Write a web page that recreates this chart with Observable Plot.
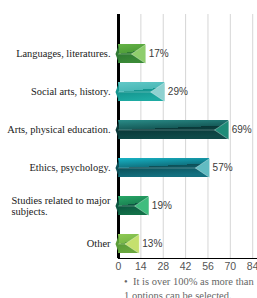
<!DOCTYPE html>
<html><head><meta charset="utf-8">
<script src="https://cdn.jsdelivr.net/npm/d3@7"></script>
<script src="https://cdn.jsdelivr.net/npm/@observablehq/plot@0.6"></script>
<style>
html,body{margin:0;padding:0;background:#fff;}
body{width:257px;height:298px;overflow:hidden;position:relative;}
#note{font-family:"Liberation Serif",serif;font-size:10.5px;color:#666;margin-left:124px;line-height:14px;white-space:nowrap;margin-top:-1px;}
#note .b{display:inline-block;width:9px;}
</style></head>
<body>
<div id="chart"></div>
<div id="note"><span class="b">•</span>It is over 100% as more than<br>1 options can be selected.</div>
<script>
const categories = ["Languages, literatures.", "Social arts, history.", "Arts, physical education.", "Ethics, psychology.", "Studies related to major subjects.", "Other"];
const values = [17, 29, 69, 57, 19, 13];
const xTicks = [0, 14, 28, 42, 56, 70, 84];

// styling (colours for each bar: top-left, top-right, bottom-left, bottom-right, end triangle)
const barColors = [
  ["#66b447", "#4f9e39", "#2f7a33", "#3a8a36", "#8fcd6c"],
  ["#62c9c8", "#4ab8b6", "#14958f", "#1eaaa2", "#8fd1d0"],
  ["#2a8c88", "#155a58", "#093838", "#0f4a48", "#1f8c78"],
  ["#17b4c6", "#0f7482", "#0c5058", "#137080", "#62bcc2"],
  ["#28a867", "#1b8554", "#0c5640", "#127048", "#3fbd7e"],
  ["#8fca55", "#7ab848", "#5a9c38", "#6aa83e", "#c5e06e"]
];

const rows = categories.map((c, i) => ({category: c, value: values[i], i}));

function symRadius(size) { return Math.sqrt(size / Math.PI); }
const endTriangle = {draw(ctx, size) { const r = symRadius(size); ctx.moveTo(0, -r); ctx.lineTo(-1.5 * r, 0); ctx.lineTo(0, r); ctx.closePath(); }};
const notch = {draw(ctx, size) { const r = symRadius(size); ctx.moveTo(0.5, -r); ctx.lineTo(-3, 0); ctx.lineTo(0.5, r); ctx.closePath(); }};

const sans = "'Liberation Sans',Arial,sans-serif";

const plot = Plot.plot({
  width: 257,
  height: 276,
  marginLeft: 118,
  marginRight: 0,
  marginTop: 14,
  marginBottom: 18,
  style: {background: "#fff", overflow: "visible"},
  x: {domain: [0, 87], axis: null},
  y: {domain: categories, paddingInner: 0.5, paddingOuter: 0.425, align: 0.866, axis: null},
  color: {type: "identity"},
  marks: [
    Plot.gridX(xTicks.slice(1), {stroke: "#d6d6d6", strokeOpacity: 1, strokeWidth: 1}),
    Plot.frame({anchor: "bottom", stroke: "#000", strokeWidth: 1.2}),
    Plot.ruleX([0], {stroke: "#000", strokeWidth: 3}),
    Plot.barX(rows, {x: "value", y: "category", fill: d => `url(#bg${d.i})`}),
    Plot.dot(rows, {x: () => 0, y: "category", symbol: notch, r: 9.5, fill: d => barColors[d.i][2], stroke: "none"}),
    Plot.ruleY(rows, {y: "category", x1: () => 0, x2: "value", stroke: "#ffffff", strokeOpacity: 0.35, strokeWidth: 0.8}),
    Plot.dot(rows, {x: "value", y: "category", symbol: endTriangle, r: 9.5, fill: d => barColors[d.i][4], stroke: "#ffffff", strokeOpacity: 0.55, strokeWidth: 0.6}),
    Plot.text(rows, {x: "value", y: "category", text: d => d.value + "%", dx: 3, textAnchor: "start", fontSize: 10, fill: "#3a3a3a", fontFamily: sans}),
    Plot.axisX(xTicks, {tickSize: 0, tickPadding: 4, fontSize: 10.5, fill: "#555", fontFamily: sans, label: null}),
    Plot.axisY({tickSize: 0, tickPadding: 8, fontSize: 10.4, fill: "#1a1a1a", fontFamily: "'Liberation Serif',serif", lineWidth: 12.5, label: null})
  ]
});

document.getElementById("chart").appendChild(plot);

// gradient definitions for bar fills
const svg = d3.select(plot);
const defs = svg.insert("defs", ":first-child");
barColors.forEach((c, i) => {
  const g = defs.append("linearGradient").attr("id", `bg${i}`).attr("x1", 0).attr("y1", 0).attr("x2", 0.25).attr("y2", 1);
  g.append("stop").attr("offset", 0).attr("stop-color", c[0]);
  g.append("stop").attr("offset", 0.5).attr("stop-color", c[1]);
  g.append("stop").attr("offset", 0.5).attr("stop-color", c[2]);
  g.append("stop").attr("offset", 1).attr("stop-color", c[3]);
});

// left-align wrapped lines of multi-line category labels
plot.querySelectorAll("text").forEach(t => {
  const spans = t.querySelectorAll("tspan");
  if (spans.length > 1) {
    let maxLen = 0;
    spans.forEach(s => { maxLen = Math.max(maxLen, s.getComputedTextLength()); });
    t.setAttribute("text-anchor", "start");
    spans.forEach(s => s.setAttribute("x", -maxLen));
  }
});
</script>
</body></html>
